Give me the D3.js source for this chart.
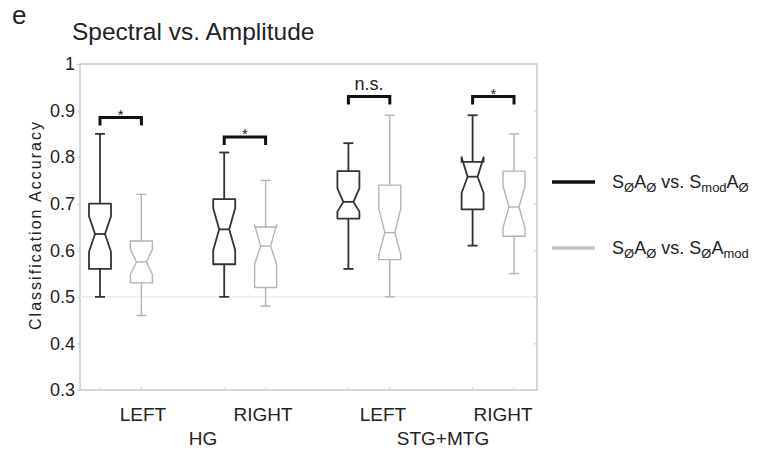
<!DOCTYPE html>
<html>
<head>
<meta charset="utf-8">
<script src="https://cdn.jsdelivr.net/npm/d3@7"></script>
<style>
  body { margin: 0; background: #fff; }
  text { font-family: "Liberation Sans", Arial, sans-serif; fill: #222; }
</style>
</head>
<body>
<script>
'use strict';

// categories
const sides = ["LEFT", "RIGHT", "LEFT", "RIGHT"];
const regions = ["HG", "STG+MTG"];

// series 1: S∅A∅ vs. SmodA∅ (black)
const specMin = [0.50, 0.50, 0.56, 0.61];
const specQ1 = [0.56, 0.57, 0.668, 0.688];
const specMed = [0.635, 0.645, 0.704, 0.758];
const specQ3 = [0.70, 0.71, 0.77, 0.79];
const specMax = [0.85, 0.81, 0.83, 0.89];
const specNotchLo = [0.597, 0.60, 0.683, 0.723];
const specNotchHi = [0.673, 0.69, 0.733, 0.80];

// series 2: S∅A∅ vs. S∅Amod (grey)
const ampMin = [0.46, 0.48, 0.50, 0.55];
const ampQ1 = [0.53, 0.52, 0.58, 0.63];
const ampMed = [0.575, 0.609, 0.638, 0.693];
const ampQ3 = [0.62, 0.65, 0.74, 0.77];
const ampMax = [0.72, 0.75, 0.89, 0.85];
const ampNotchLo = [0.548, 0.57, 0.59, 0.648];
const ampNotchHi = [0.602, 0.655, 0.69, 0.738];

// significance brackets
const sigLabels = ["*", "*", "n.s.", "*"];
const sigLevel = [0.885, 0.843, 0.93, 0.93];

// y axis ticks
const yTicks = [0.3, 0.4, 0.5, 0.6, 0.7, 0.8, 0.9, 1.0];
const yTickLabels = ["0.3", "0.4", "0.5", "0.6", "0.7", "0.8", "0.9", "1"];

const width = 757, height = 452;
const plot = { left: 80, right: 537, top: 64, bottom: 390 };
const colors = ["#333", "#b3b3b3"];

const svg = d3.select("body").append("svg")
  .attr("width", width)
  .attr("height", height);

const y = d3.scaleLinear().domain([0.3, 1]).range([plot.bottom, plot.top]);
// slot positions: group g, series s -> slot g*3 + s
const xSlot = d3.scaleLinear().domain([0, 10]).range([100, 514]);
const xLabel = d3.scaleLinear().domain([0, 3]).range([143, 503]);

// panel letter + title
svg.append("text").attr("x", 12).attr("y", 24)
  .style("font-size", "26px").text("e");
svg.append("text").attr("x", 72).attr("y", 40)
  .style("font-size", "24.5px").text("Spectral vs. Amplitude");

// frame
svg.append("rect")
  .attr("x", plot.left).attr("y", plot.top)
  .attr("width", plot.right - plot.left).attr("height", plot.bottom - plot.top)
  .attr("fill", "none").attr("stroke", "#cacaca").attr("stroke-width", 1.5);

// chance line
svg.append("line")
  .attr("x1", plot.left).attr("x2", plot.right)
  .attr("y1", y(0.5)).attr("y2", y(0.5))
  .attr("stroke", "#ececec").attr("stroke-width", 1.5);

// y axis (left) with labels, plus mirrored ticks on the right
const yAxis = d3.axisLeft(y).tickValues(yTicks)
  .tickFormat((d, i) => yTickLabels[i]).tickSize(3).tickPadding(2);
const ga = svg.append("g").attr("transform", `translate(${plot.left},0)`).call(yAxis);
ga.select(".domain").remove();
ga.selectAll(".tick line").attr("stroke", "#cacaca");
ga.selectAll(".tick text")
  .style("font-size", "18px")
  .style("font-family", "Liberation Sans, Arial, sans-serif")
  .attr("fill", "#222");

const gr = svg.append("g").attr("transform", `translate(${plot.right},0)`)
  .call(d3.axisRight(y).tickValues(yTicks).tickSize(-3).tickFormat(""));
gr.select(".domain").remove();
gr.selectAll(".tick line").attr("stroke", "#cacaca");

// bottom ticks at box positions
const slots = d3.range(4).flatMap(g => [g * 3, g * 3 + 1]);
svg.selectAll(".xtick").data(slots).enter().append("line")
  .attr("x1", d => xSlot(d)).attr("x2", d => xSlot(d))
  .attr("y1", plot.bottom).attr("y2", plot.bottom - 3)
  .attr("stroke", "#d5d5d5");

// y label
svg.append("text")
  .attr("transform", "rotate(-90)")
  .attr("x", -226).attr("y", 41)
  .attr("text-anchor", "middle")
  .attr("textLength", 208).attr("lengthAdjust", "spacing")
  .style("font-size", "16px")
  .text("Classification Accuracy");

// x labels
svg.selectAll(".side").data(sides).enter().append("text")
  .attr("x", (d, i) => xLabel(i)).attr("y", 421)
  .attr("text-anchor", "middle").style("font-size", "19px")
  .text(d => d);
svg.selectAll(".region").data(regions).enter().append("text")
  .attr("x", (d, i) => (xLabel(i * 2) + xLabel(i * 2 + 1)) / 2).attr("y", 445)
  .attr("text-anchor", "middle").style("font-size", "19px")
  .text(d => d);

// build box records
const boxes = [];
for (let g = 0; g < 4; g++) {
  boxes.push({ slot: g * 3, s: 0, lo: specMin[g], q1: specQ1[g], med: specMed[g], q3: specQ3[g], hi: specMax[g], nlo: specNotchLo[g], nhi: specNotchHi[g] });
  boxes.push({ slot: g * 3 + 1, s: 1, lo: ampMin[g], q1: ampQ1[g], med: ampMed[g], q3: ampQ3[g], hi: ampMax[g], nlo: ampNotchLo[g], nhi: ampNotchHi[g] });
}

const hw = 11, nw = 5, cap = 5;
const gb = svg.selectAll(".box").data(boxes).enter().append("g")
  .attr("stroke", d => colors[d.s])
  .attr("stroke-width", d => d.s === 0 ? 1.8 : 1.4)
  .attr("fill", "none");

// whiskers
gb.append("line")
  .attr("x1", d => xSlot(d.slot)).attr("x2", d => xSlot(d.slot))
  .attr("y1", d => y(d.q3)).attr("y2", d => y(d.hi));
gb.append("line")
  .attr("x1", d => xSlot(d.slot)).attr("x2", d => xSlot(d.slot))
  .attr("y1", d => y(d.q1)).attr("y2", d => y(d.lo));
gb.append("line")
  .attr("x1", d => xSlot(d.slot) - cap).attr("x2", d => xSlot(d.slot) + cap)
  .attr("y1", d => y(d.hi)).attr("y2", d => y(d.hi));
gb.append("line")
  .attr("x1", d => xSlot(d.slot) - cap).attr("x2", d => xSlot(d.slot) + cap)
  .attr("y1", d => y(d.lo)).attr("y2", d => y(d.lo));

// notched box
gb.append("path")
  .attr("fill", "#fff")
  .attr("stroke-linejoin", "round")
  .attr("d", d => {
    const cx = xSlot(d.slot);
    const pts = [
      [cx - hw, y(d.q1)], [cx - hw, y(d.nlo)], [cx - nw, y(d.med)], [cx - hw, y(d.nhi)], [cx - hw, y(d.q3)],
      [cx + hw, y(d.q3)], [cx + hw, y(d.nhi)], [cx + nw, y(d.med)], [cx + hw, y(d.nlo)], [cx + hw, y(d.q1)]
    ];
    return d3.line()(pts) + "Z";
  });
// median
gb.append("line")
  .attr("x1", d => xSlot(d.slot) - nw).attr("x2", d => xSlot(d.slot) + nw)
  .attr("y1", d => y(d.med)).attr("y2", d => y(d.med));

// significance brackets
const leg = 8;
const gs = svg.selectAll(".sig").data(sigLabels).enter().append("g");
gs.append("path")
  .attr("fill", "none").attr("stroke", "#111").attr("stroke-width", 3)
  .attr("d", (d, i) => {
    const x0 = xSlot(i * 3), x1 = xSlot(i * 3 + 1), yy = y(sigLevel[i]);
    return `M${x0},${yy + leg}V${yy}H${x1}V${yy + leg}`;
  });
gs.append("text")
  .attr("x", (d, i) => (xSlot(i * 3) + xSlot(i * 3 + 1)) / 2)
  .attr("y", (d, i) => d === "*" ? y(sigLevel[i]) + 2 : y(sigLevel[i]) - 7)
  .attr("text-anchor", "middle")
  .style("font-size", d => d === "*" ? "15px" : "18px")
  .text(d => d);

// legend
const legendItems = [
  [["S"], ["Ø", 1], ["A"], ["Ø", 1], [" vs. S"], ["mod", 1], ["A"], ["Ø", 1]],
  [["S"], ["Ø", 1], ["A"], ["Ø", 1], [" vs. S"], ["Ø", 1], ["A"], ["mod", 1]]
];
const legendY = [182, 248];
const legendColors = ["#111", "#c4c4c4"];
legendItems.forEach((parts, i) => {
  svg.append("line")
    .attr("x1", 552).attr("x2", 595)
    .attr("y1", legendY[i]).attr("y2", legendY[i])
    .attr("stroke", legendColors[i]).attr("stroke-width", 3.5);
  const t = svg.append("text").attr("x", 612).attr("y", legendY[i] + 6)
    .style("font-size", "18px");
  let down = false;
  parts.forEach(p => {
    const sub = !!p[1];
    const ts = t.append("tspan").text(p[0]);
    if (sub && !down) { ts.attr("dy", 4).style("font-size", "13px"); down = true; }
    else if (sub) { ts.style("font-size", "13px"); }
    else if (down) { ts.attr("dy", -4); down = false; }
  });
});
</script>
</body>
</html>
